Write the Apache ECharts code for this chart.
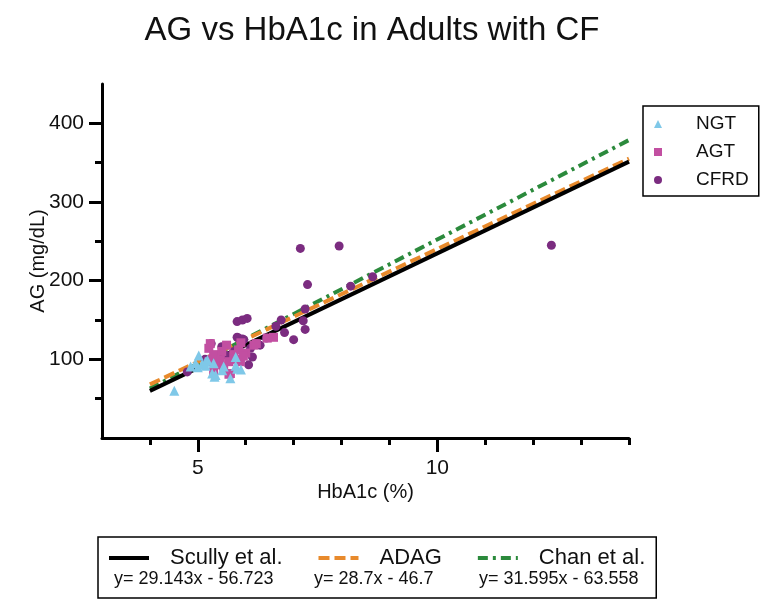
<!DOCTYPE html>
<html>
<head>
<meta charset="utf-8">
<script src="https://cdn.jsdelivr.net/npm/echarts@6/dist/echarts.min.js"></script>
<style>
html,body{margin:0;padding:0;background:#fff;}
#chart{width:760px;height:602px;}
</style>
</head>
<body>
<div id="chart"></div>
<script>
// ---- data ----
var ngtPoints = [
  [4.51, 60], [4.85, 91], [4.95, 95], [5.0, 90], [5.02, 105], [5.09, 94],
  [5.16, 97], [5.2, 99], [5.16, 92], [5.3, 82], [5.33, 95], [5.35, 78],
  [5.37, 80], [5.51, 86], [5.54, 91], [5.79, 103], [5.79, 92], [5.82, 88],
  [5.9, 87], [5.68, 76]
];
var agtPoints = [
  [5.23, 114], [5.26, 120], [5.33, 106], [5.23, 97], [5.33, 84], [5.4, 93],
  [5.47, 99], [5.54, 91], [5.65, 97], [5.65, 81], [5.68, 82], [5.75, 106],
  [5.85, 112], [5.89, 97], [5.5, 110], [5.6, 118], [5.9, 121], [6.0, 108],
  [6.17, 118], [6.22, 120], [6.58, 128], [6.45, 127], [5.8, 100], [5.3, 100],
  [5.95, 104]
];
var cfrdPoints = [
  [4.78, 84], [5.28, 120], [5.5, 116], [5.75, 110], [5.82, 128], [5.85, 127],
  [5.93, 126], [5.96, 125], [5.82, 148], [5.93, 150], [6.03, 152], [6.24, 120],
  [6.1, 114], [6.14, 103], [6.06, 93], [6.43, 127], [6.63, 142], [6.74, 150],
  [6.81, 134], [7.0, 125], [7.2, 149], [7.24, 138], [7.24, 164], [7.29, 195],
  [7.14, 241], [7.95, 244], [8.19, 193], [8.65, 205], [12.38, 245], [5.6, 105],
  [6.3, 118], [5.15, 100]
];
var scullyLine = [[4, 59.85], [14, 351.28]];
var adagLine = [[4, 68.1], [14, 355.1]];
var chanLine = [[4, 62.82], [14, 378.77]];

var groupNames = ['NGT', 'AGT', 'CFRD'];
var lineNames = ['Scully et al.', 'ADAG', 'Chan et al.'];
var equations = ['y= 29.143x - 56.723', 'y= 28.7x - 46.7', 'y= 31.595x - 63.558'];

var xMinorTicks = [4, 5, 6, 7, 8, 9, 10, 11, 12, 13, 14];
var xMajorTicks = [5, 10];
var yMinorTicks = [50, 100, 150, 200, 250, 300, 350, 400];
var yMajorTicks = [100, 200, 300, 400];

var titleText = 'AG vs HbA1c in Adults with CF';
var xName = 'HbA1c (%)';
var yName = 'AG (mg/dL)';

// ---- chart ----
var FONT = '"Liberation Sans", Arial, Helvetica, sans-serif';
var chart = echarts.init(document.getElementById('chart'), null, {renderer: 'canvas'});

var axisCommonX = {
  type: 'value', min: 3, max: 14, position: 'bottom',
  splitLine: {show: false}
};
var axisCommonY = {
  type: 'value', min: 0, max: 450, position: 'left',
  splitLine: {show: false}
};

var option = {
  backgroundColor: '#ffffff',
  animation: false,
  textStyle: {fontFamily: FONT},
  title: {
    text: titleText,
    left: 367, top: 9, textAlign: 'center',
    textStyle: {fontFamily: FONT, fontSize: 33, fontWeight: 'normal', color: '#111'}
  },
  grid: {left: 102, right: 131, top: 84, bottom: 164, containLabel: false},
  xAxis: [
    Object.assign({}, axisCommonX, {
      name: xName, nameLocation: 'middle', nameGap: 44,
      nameTextStyle: {fontFamily: FONT, fontSize: 20, color: '#111'},
      axisLine: {show: true, lineStyle: {color: '#000', width: 3}},
      axisTick: {show: true, customValues: xMinorTicks, length: 7, lineStyle: {color: '#000', width: 3}},
      axisLabel: {show: false}
    }),
    Object.assign({}, axisCommonX, {
      axisLine: {show: false},
      axisTick: {show: true, customValues: xMajorTicks, length: 14, lineStyle: {color: '#000', width: 3}},
      axisLabel: {show: true, customValues: xMajorTicks, margin: 20, fontFamily: FONT, fontSize: 21, color: '#111'}
    })
  ],
  yAxis: [
    Object.assign({}, axisCommonY, {
      name: yName, nameLocation: 'middle', nameGap: 54, nameRotate: 90,
      nameTextStyle: {fontFamily: FONT, fontSize: 20, color: '#111'},
      axisLine: {show: true, lineStyle: {color: '#000', width: 3}},
      axisTick: {show: true, customValues: yMinorTicks, length: 7, lineStyle: {color: '#000', width: 3}},
      axisLabel: {show: false}
    }),
    Object.assign({}, axisCommonY, {
      axisLine: {show: false},
      axisTick: {show: true, customValues: yMajorTicks, length: 13, lineStyle: {color: '#000', width: 3}},
      axisLabel: {show: true, customValues: yMajorTicks, margin: 18, fontFamily: FONT, fontSize: 21, color: '#111'}
    })
  ],
  legend: [
    {
      data: groupNames,
      orient: 'vertical',
      left: 643, top: 106,
      padding: [8, 10, 6, 11],
      itemGap: 8,
      itemWidth: 8, itemHeight: 8,
      borderColor: '#000', borderWidth: 1.5,
      textStyle: {fontFamily: FONT, fontSize: 19, color: '#111', lineHeight: 20, padding: [0, 0, 0, 29]}
    },
    {
      data: lineNames,
      orient: 'horizontal',
      left: 98, top: 537,
      padding: [8, 11, 27, 9],
      itemGap: 34,
      itemWidth: 40, itemHeight: 12,
      borderColor: '#000', borderWidth: 1.5,
      itemStyle: {opacity: 0},
      lineStyle: {width: 4},
      textStyle: {fontFamily: FONT, fontSize: 22, color: '#111', lineHeight: 26, padding: [0, 0, 0, 16]}
    }
  ],
  graphic: [
    {type: 'text', left: 114, top: 570, style: {text: equations[0], font: '18px ' + FONT, fill: '#111'}},
    {type: 'text', left: 314, top: 570, style: {text: equations[1], font: '18px ' + FONT, fill: '#111'}},
    {type: 'text', left: 479, top: 570, style: {text: equations[2], font: '18px ' + FONT, fill: '#111'}}
  ],
  series: [
    {
      name: lineNames[2], type: 'line', data: chanLine, symbol: 'none', z: 3,
      lineStyle: {color: '#2B8A3C', width: 4, type: [10, 5, 3, 5]},
      itemStyle: {color: '#2B8A3C'}
    },
    {
      name: lineNames[1], type: 'line', data: adagLine, symbol: 'none', z: 4,
      lineStyle: {color: '#E88A2C', width: 4, type: [11, 5]},
      itemStyle: {color: '#E88A2C'}
    },
    {
      name: lineNames[0], type: 'line', data: scullyLine, symbol: 'none', z: 5,
      lineStyle: {color: '#000000', width: 4, type: 'solid'},
      itemStyle: {color: '#000000'}
    },
    {
      name: groupNames[2], type: 'scatter', data: cfrdPoints, symbol: 'circle', symbolSize: 9, z: 6,
      itemStyle: {color: '#7B2C80', opacity: 1}
    },
    {
      name: groupNames[1], type: 'scatter', data: agtPoints, symbol: 'rect', symbolSize: 9, z: 7,
      itemStyle: {color: '#C24FA1', opacity: 1}
    },
    {
      name: groupNames[0], type: 'scatter', data: ngtPoints, symbol: 'triangle', symbolSize: 10, z: 8,
      itemStyle: {color: '#7FC8E8', opacity: 1}
    }
  ]
};
chart.setOption(option);
</script>
</body>
</html>
